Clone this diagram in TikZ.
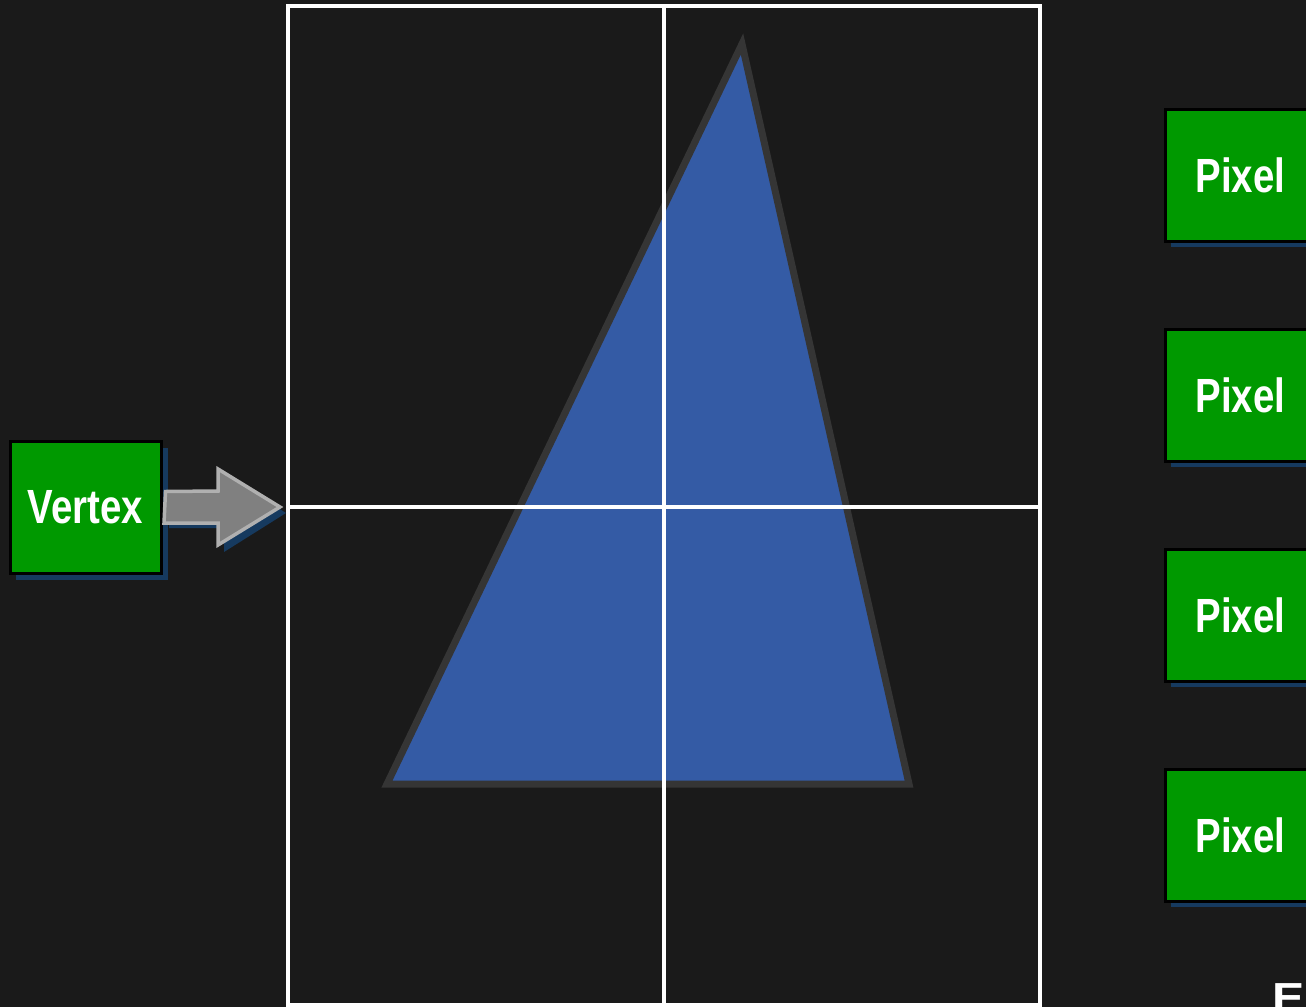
\documentclass[tikz,border=0pt]{standalone}
\usepackage{fontspec}
\setmainfont{Liberation Sans}
\usepackage{graphicx}
\definecolor{bgc}{HTML}{1A1A1A}
\definecolor{boxgreen}{HTML}{009900}
\definecolor{shadowblue}{HTML}{163A5F}
\definecolor{trifill}{HTML}{345BA5}
\definecolor{tristroke}{HTML}{353535}
\definecolor{arrowfill}{HTML}{808080}
\definecolor{arrowline}{HTML}{B0B0B0}
\tikzset{
  greenbox/.style={draw=black, line width=3pt, fill=boxgreen, minimum width=151pt, minimum height=132pt, inner sep=0pt, text=white,
    font=\fontsize{48}{48}\selectfont\bfseries},
  boxshadow/.style={fill=shadowblue},
  gridline/.style={draw=white, line width=4pt},
}
\newcommand{\narrowtxt}[1]{\scalebox{0.8}[1]{#1}}
\begin{document}
\begin{tikzpicture}[x=1pt,y=-1pt]
\useasboundingbox (0,0) rectangle (1306,1007);
\fill[bgc] (0,0) rectangle (1306,1007);
\begin{scope}
\clip (0,0) rectangle (1306,1007);
% triangle
\draw[tristroke, line width=7pt, fill=trifill, line join=miter] (742,44) -- (909,784) -- (387,784) -- cycle;
% grid
\draw[gridline] (288,6) rectangle (1040,1005);
\draw[gridline] (664,6) -- (664,1005);
\draw[gridline] (288,507) -- (1040,507);
% vertex box with shadow
\fill[boxshadow] (16,448) rectangle (168,580);
\node[greenbox] (vertex) at (85.5,507.5) {\narrowtxt{Vertex}};
% arrow with shadow
\fill[boxshadow] (169,496) -- (224,496) -- (224,474) -- (286,513) -- (224,552) -- (224,528) -- (169,528) -- cycle;
\draw[arrowline, fill=arrowfill, line width=3.5pt, line join=miter] (vertex.east) ++(3,-16) coordinate (a1) -- (218,491) -- (218,469) -- (280,507) coordinate (tip) -- (218,545) -- (218,523) -- (164,523) -- cycle;
% pixel boxes
\foreach \y/\n in {175/p1,395/p2,615/p3,835/p4}{
  \fill[boxshadow] (1171,\y-60) rectangle (1322,\y+72);
  \node[greenbox] (\n) at (1240.5,\y+0.5) {\narrowtxt{Pixel}};
}
% partial text at bottom right (cut off by the picture edge, as in the reference)
\node[anchor=north west, inner sep=0pt, text=white, font=\fontsize{42}{42}\selectfont\bfseries] (etext) at (1272,983) {\scalebox{1.15}[1]{E}};
\end{scope}
\end{tikzpicture}
\end{document}
